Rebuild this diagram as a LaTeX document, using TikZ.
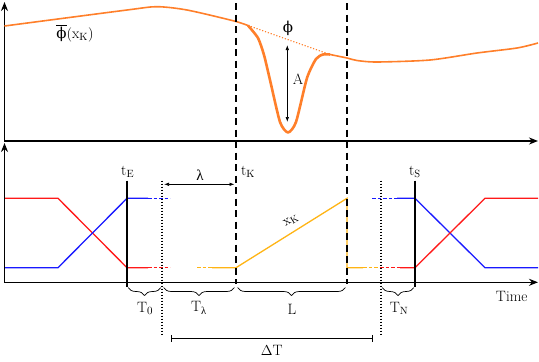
\documentclass[tikz,border=0pt]{standalone}
\usepackage{fontspec}
\usepackage{amsmath}
\newfontfamily\grk{DejaVu Serif}
\newfontfamily\grl{Liberation Serif}
\usetikzlibrary{arrows.meta,decorations.pathreplacing}
\definecolor{curveorange}{RGB}{255,127,42}
\definecolor{xkyellow}{RGB}{255,180,20}
\definecolor{sigred}{RGB}{255,25,25}
\definecolor{sigblue}{RGB}{25,25,255}
\begin{document}
\begin{tikzpicture}[x=1pt,y=-1pt,font=\fontsize{15}{17}\selectfont,
  axisline/.style={line width=1.6pt,{Stealth[length=9pt,width=7pt]}-{Stealth[length=9pt,width=7pt]}},
  curve/.style={curveorange,line width=1.6pt,line join=round},
  dip/.style={curveorange,line width=2.6pt,line join=round},
  kline/.style={black,line width=2pt,dash pattern=on 7pt off 4.5pt},
  dotline/.style={black,line width=1.8pt,dash pattern=on 1.5pt off 1.5pt},
  tline/.style={black,line width=1.2pt},
  sig/.style={line width=1.3pt},
  sigdash/.style={line width=1.3pt,dash pattern=on 3.5pt off 2pt},
  brc/.style={decorate,decoration={brace,mirror,amplitude=8pt},line width=0.7pt},
  dimarrow/.style={line width=0.7pt,{Latex[length=5pt,width=3.5pt]}-{Latex[length=5pt,width=3.5pt]}},
  lbl/.style={inner sep=0pt}]
\useasboundingbox (0,0) rectangle (539,362);
% ---------- upper plot ----------
\coordinate (uY) at (4.5,2); \coordinate (uO) at (4.5,141); \coordinate (uX) at (538,141);
\draw[axisline] (uY) -- (uO) -- (uX);
\draw[curve] plot[smooth,tension=0.45] coordinates {(4.5,26) (127,10) (157,6.7) (187,10) (233,20.7) (248,25.5)};
\draw[dip] plot[smooth,tension=0.4] coordinates {(248,25.5) (258,38) (264,55) (270,80) (280,122) (288,132.5) (296,122) (307,78) (316,59) (323,54.5) (330,54.5)};
\draw[curve] plot[smooth,tension=0.45] coordinates {(330,54.5) (347,58) (357,60.5) (377,62) (430,60) (477,53) (517,48) (538,43)};
\coordinate (dotA) at (248,25.5); \coordinate (dotB) at (330,54.5);
\draw[curveorange,line width=1.1pt,dash pattern=on 1.2pt off 1.8pt] (dotA) -- (dotB);
\coordinate (aT) at (287.3,45); \coordinate (aB) at (287.3,122);
\draw[dimarrow] (aT) -- (aB);
\node[lbl] (labA) at (298,79) {A};
\node[lbl] (labphi) at (288,28) {{\grk ϕ}};
\node[lbl] (labphibar) at (75,33) {$\overline{\text{\grk ϕ}}(\mathrm{x}_\mathrm{K})$};
% ---------- lower plot ----------
\coordinate (lY) at (4.5,143); \coordinate (lO) at (4.5,282.3); \coordinate (lX) at (538,282.3);
% yellow x_K signal
\draw[xkyellow,sigdash] (197,267.7) -- (212,267.7);
\draw[xkyellow,sig] (212,267.7) -- (236,267.7) -- (347,198.3) -- (347,267.7) -- (363,267.7);
\draw[xkyellow,sigdash] (363,267.7) -- (380,267.7);
\node[lbl,rotate=32,font=\fontsize{14}{16}\selectfont] (labxk) at (291,220.5) {$\mathrm{x}_\mathrm{K}$};
% red / blue left
\draw[sigred,sig] (4.5,198.3) -- (58,198.3) -- (127,267.7) -- (148,267.7);
\draw[sigred,sigdash] (148,267.7) -- (170,267.7);
\draw[sigblue,sig] (4.5,267.7) -- (58,267.7) -- (127,198.3) -- (148,198.3);
\draw[sigblue,sigdash] (148,198.3) -- (170,198.3);
% red / blue right
\draw[sigblue,sigdash] (372,198.3) -- (397,198.3);
\draw[sigblue,sig] (397,198.3) -- (415,198.3) -- (485,267.7) -- (538,267.7);
\draw[sigred,sigdash] (380,267.7) -- (400,267.7);
\draw[sigred,sig] (400,267.7) -- (415,267.7) -- (485,198.3) -- (538,198.3);
% axes
\draw[axisline] (lY) -- (lO) -- (lX);
% dashed t_K and end lines
\coordinate (k1T) at (236,3); \coordinate (k1B) at (236,283.5);
\coordinate (k2T) at (347,3); \coordinate (k2B) at (347,283.5);
\draw[kline] (k1T) -- (k1B);
\draw[kline] (k2T) -- (k2B);
% t_E, t_S
\coordinate (eT) at (127,180.7); \coordinate (eB) at (127,287);
\coordinate (sT) at (415,180.7); \coordinate (sB) at (415,287);
\draw[tline] (eT) -- (eB);
\draw[tline] (sT) -- (sB);
% dotted lines
\coordinate (d1T) at (162,180.7); \coordinate (d1B) at (162,336.7);
\coordinate (d2T) at (381,180.7); \coordinate (d2B) at (381,336.7);
\draw[dotline] (d1T) -- (d1B);
\draw[dotline] (d2T) -- (d2B);
% labels
\node[lbl] (labtE) at (127.7,172) {$\mathrm{t}_\mathrm{E}$};
\node[lbl] (labtK) at (248,172) {$\mathrm{t}_\mathrm{K}$};
\node[lbl] (labtS) at (415,172) {$\mathrm{t}_\mathrm{S}$};
\coordinate (lamL) at (164,184.3); \coordinate (lamR) at (234.5,184.3);
\draw[dimarrow] (lamL) -- (lamR);
\node[lbl] (lablam) at (200,175.5) {{\grl λ}};
\node[lbl] (labtime) at (511.7,296.7) {Time};
% braces
\draw[brc] (128,287.5) -- (161,287.5);
\draw[brc] (163.5,287.5) -- (234.5,287.5);
\draw[brc] (237.5,287.5) -- (345.5,287.5);
\draw[brc] (382,287.5) -- (414,287.5);
\node[lbl] (labT0) at (145,308) {$\mathrm{T}_0$};
\node[lbl] (labTl) at (199,308) {$\mathrm{T}_{\text{\grl λ}}$};
\node[lbl] (labL) at (292,309) {L};
\node[lbl] (labTN) at (399,308.5) {$\mathrm{T}_\mathrm{N}$};
% Delta T
\coordinate (dtL) at (171,338.3); \coordinate (dtR) at (372.7,338.3);
\draw[line width=0.8pt,{Bar[width=7pt]}-{Bar[width=7pt]}] (dtL) -- (dtR);
\node[lbl] (labDT) at (271.7,350) {$\Delta\mathrm{T}$};
\end{tikzpicture}
\end{document}
